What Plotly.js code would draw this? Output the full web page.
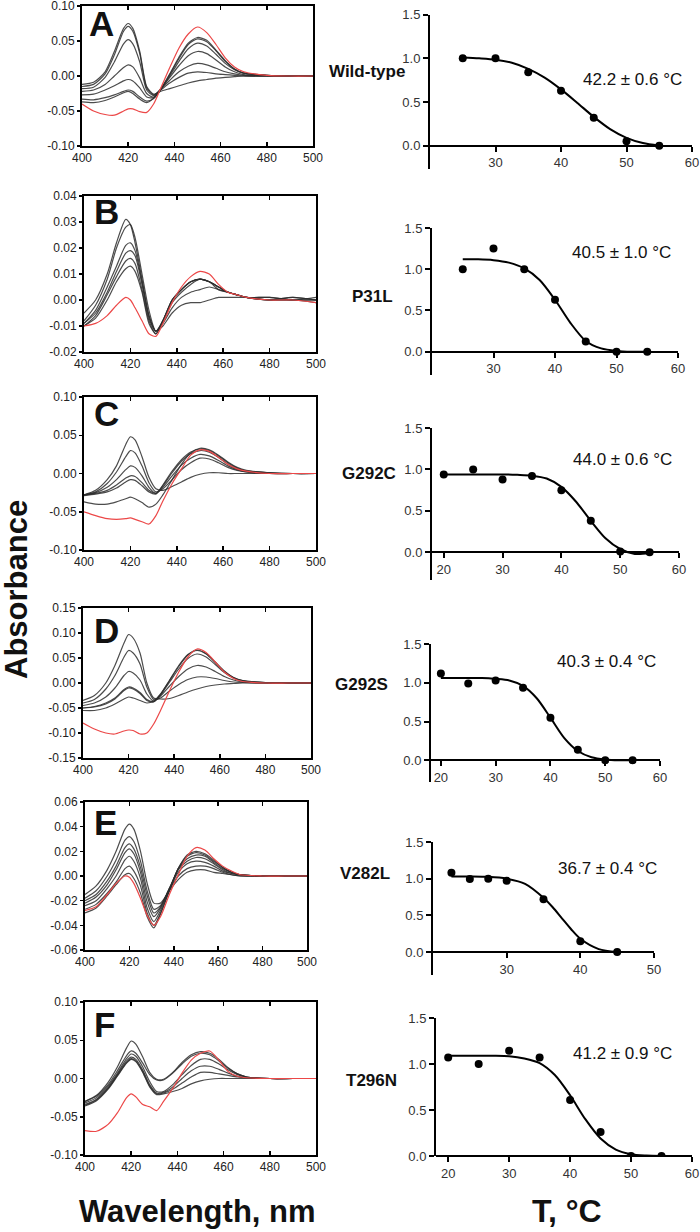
<!DOCTYPE html>
<html><head><meta charset="utf-8">
<script src="https://cdn.plot.ly/plotly-3.0.1.min.js"></script>
<style>html,body{margin:0;padding:0;background:#fff}#chart{width:700px;height:1232px}</style>
</head><body><div id="chart"></div>
<script>
// ---------------- DATA ----------------
const wavelength = [400,405,410,414,418,420,422,425,428,431,434,438,442,446,450,454,458,462,466,470,480,490,500];

// Panel A (Wild-type) spectra
const A_red = [-0.040,-0.050,-0.055,-0.056,-0.050,-0.047,-0.047,-0.051,-0.052,-0.040,-0.018,0.012,0.040,0.060,0.070,0.062,0.045,0.026,0.013,0.006,0.001,0.000,0.000];
const A_1 = [-0.012,-0.009,0.006,0.035,0.068,0.075,0.068,0.035,-0.015,-0.026,-0.022,-0.018,-0.014,-0.010,-0.007,-0.005,-0.003,-0.002,-0.001,0,0,0,0];
const A_2 = [-0.015,-0.012,0.003,0.030,0.064,0.071,0.064,0.032,-0.017,-0.027,-0.020,-0.010,-0.002,0.004,0.006,0.005,0.003,0.002,0.001,0,0,0,0];
const A_3 = [-0.018,-0.016,-0.002,0.020,0.046,0.052,0.046,0.020,-0.020,-0.028,-0.019,-0.006,0.006,0.014,0.018,0.016,0.011,0.006,0.003,0.001,0,0,0];
const A_4 = [-0.022,-0.020,-0.012,0.000,0.012,0.016,0.013,-0.003,-0.025,-0.030,-0.019,-0.002,0.015,0.029,0.035,0.032,0.023,0.013,0.006,0.002,0,0,0];
const A_5 = [-0.027,-0.026,-0.020,-0.014,-0.007,-0.005,-0.007,-0.017,-0.030,-0.031,-0.020,0.000,0.021,0.039,0.047,0.043,0.031,0.018,0.009,0.004,0.001,0,0];
const A_6 = [-0.033,-0.034,-0.031,-0.027,-0.022,-0.020,-0.022,-0.030,-0.036,-0.032,-0.020,0.002,0.025,0.045,0.053,0.049,0.036,0.021,0.010,0.004,0.001,0,0];
const A_7 = [-0.037,-0.038,-0.035,-0.030,-0.024,-0.022,-0.025,-0.033,-0.038,-0.032,-0.019,0.003,0.027,0.047,0.055,0.051,0.037,0.022,0.010,0.004,0.001,0,0];

// Panel B (P31L)
const B_red = [-0.010,-0.009,-0.006,-0.002,0.001,0.000,-0.003,-0.008,-0.013,-0.014,-0.009,-0.001,0.005,0.009,0.011,0.010,0.006,0.003,0.002,0.001,0.000,0.000,-0.001];
const B_1 = [-0.005,0.000,0.010,0.022,0.031,0.029,0.022,0.008,-0.006,-0.012,-0.010,-0.005,-0.002,-0.001,-0.001,0.000,0.001,0.001,0.001,0.001,0.000,0.001,0.000];
const B_2 = [-0.008,-0.002,0.008,0.020,0.028,0.029,0.024,0.010,-0.004,-0.012,-0.009,-0.003,0.001,0.003,0.004,0.005,0.004,0.003,0.002,0.001,0.001,0.000,0.000];
const B_3 = [-0.009,-0.004,0.005,0.013,0.021,0.022,0.019,0.007,-0.006,-0.012,-0.008,-0.001,0.003,0.006,0.008,0.007,0.005,0.003,0.002,0.001,0.001,0.000,0.001];
const B_4 = [-0.009,-0.005,0.003,0.011,0.018,0.019,0.017,0.006,-0.007,-0.012,-0.008,0.000,0.004,0.007,0.008,0.007,0.005,0.003,0.002,0.001,0.000,0.001,0.000];
const B_5 = [-0.010,-0.006,0.002,0.009,0.015,0.016,0.014,0.004,-0.008,-0.013,-0.008,0.000,0.004,0.007,0.008,0.007,0.005,0.003,0.002,0.001,0.000,0.000,0.000];
const B_6 = [-0.010,-0.007,0.000,0.007,0.012,0.013,0.011,0.003,-0.009,-0.013,-0.008,0.000,0.004,0.007,0.008,0.007,0.004,0.003,0.002,0.001,0.000,0.000,-0.001];

// Panel C (G292C)
const C_red = [-0.050,-0.055,-0.059,-0.060,-0.059,-0.058,-0.060,-0.063,-0.066,-0.055,-0.036,-0.013,0.006,0.024,0.031,0.029,0.021,0.012,0.006,0.003,0.000,0.000,0.000];
const C_1 = [-0.028,-0.022,-0.008,0.010,0.038,0.048,0.044,0.022,-0.005,-0.020,-0.022,-0.017,-0.011,-0.005,-0.001,0.001,0.001,0.000,0.000,0.000,0.000,0.000,0.000];
const C_2 = [-0.028,-0.024,-0.013,0.002,0.022,0.030,0.027,0.010,-0.012,-0.024,-0.020,-0.008,0.005,0.014,0.020,0.019,0.014,0.008,0.004,0.002,0,0,0];
const C_3 = [-0.028,-0.025,-0.018,-0.008,0.005,0.010,0.008,-0.003,-0.018,-0.026,-0.018,-0.003,0.011,0.020,0.025,0.023,0.017,0.010,0.005,0.002,0,0,0];
const C_4 = [-0.028,-0.026,-0.022,-0.015,-0.006,-0.003,-0.004,-0.012,-0.022,-0.026,-0.016,0.001,0.016,0.026,0.030,0.028,0.021,0.012,0.006,0.003,0.001,0,0];
const C_5 = [-0.029,-0.027,-0.024,-0.019,-0.011,-0.008,-0.009,-0.016,-0.024,-0.027,-0.015,0.003,0.018,0.028,0.032,0.030,0.023,0.014,0.007,0.003,0.001,0,0];
const C_6 = [-0.037,-0.040,-0.040,-0.037,-0.033,-0.031,-0.033,-0.038,-0.044,-0.040,-0.028,-0.008,0.012,0.027,0.033,0.031,0.024,0.015,0.008,0.004,0.001,0,0];

// Panel D (G292S)
const D_red = [-0.080,-0.092,-0.100,-0.102,-0.096,-0.094,-0.095,-0.102,-0.100,-0.082,-0.055,-0.015,0.022,0.052,0.068,0.061,0.042,0.022,0.009,0.003,0.000,0.000,0.000];
const D_1 = [-0.035,-0.025,0.000,0.035,0.080,0.097,0.090,0.060,0.000,-0.030,-0.032,-0.031,-0.025,-0.018,-0.012,-0.007,-0.004,-0.002,-0.001,0,0,0,0];
const D_2 = [-0.040,-0.033,-0.012,0.015,0.052,0.065,0.060,0.038,-0.008,-0.033,-0.030,-0.016,-0.003,0.007,0.012,0.012,0.009,0.005,0.002,0.001,0,0,0];
const D_3 = [-0.045,-0.040,-0.028,-0.010,0.015,0.023,0.020,0.006,-0.022,-0.036,-0.026,-0.006,0.013,0.028,0.035,0.032,0.023,0.013,0.006,0.002,0,0,0];
const D_4 = [-0.050,-0.047,-0.040,-0.030,-0.013,-0.008,-0.010,-0.019,-0.033,-0.037,-0.024,0.002,0.028,0.049,0.058,0.052,0.037,0.021,0.010,0.004,0,0,0];
const D_5 = [-0.050,-0.048,-0.042,-0.032,-0.015,-0.010,-0.012,-0.021,-0.035,-0.038,-0.023,0.005,0.033,0.056,0.065,0.058,0.041,0.023,0.011,0.005,0.001,0,0];
const D_6 = [-0.055,-0.055,-0.050,-0.042,-0.032,-0.028,-0.030,-0.035,-0.040,-0.036,-0.022,0.006,0.035,0.057,0.066,0.059,0.042,0.024,0.011,0.005,0.001,0,0];

// Panel E (V282L)
const E_red = [-0.028,-0.025,-0.015,-0.006,0.000,-0.001,-0.006,-0.018,-0.032,-0.040,-0.033,-0.015,0.001,0.016,0.023,0.021,0.014,0.008,0.004,0.001,0.000,0.000,0.000];
const E_1 = [-0.015,-0.008,0.005,0.020,0.038,0.042,0.038,0.020,-0.006,-0.022,-0.022,-0.012,-0.003,0.003,0.005,0.005,0.003,0.002,0.001,0,0,0,0];
const E_2 = [-0.018,-0.012,0.000,0.013,0.029,0.032,0.028,0.012,-0.012,-0.027,-0.024,-0.011,0.000,0.006,0.008,0.008,0.006,0.003,0.001,0,0,0,0];
const E_3 = [-0.020,-0.015,-0.004,0.008,0.023,0.026,0.022,0.007,-0.016,-0.030,-0.025,-0.010,0.003,0.010,0.012,0.011,0.008,0.004,0.002,0.001,0,0,0];
const E_4 = [-0.022,-0.017,-0.007,0.005,0.019,0.022,0.018,0.003,-0.021,-0.033,-0.026,-0.010,0.005,0.012,0.015,0.014,0.010,0.005,0.002,0.001,0,0,0];
const E_5 = [-0.024,-0.020,-0.010,0.000,0.013,0.016,0.012,-0.002,-0.026,-0.037,-0.028,-0.011,0.006,0.014,0.017,0.016,0.011,0.006,0.003,0.001,0,0,0];
const E_6 = [-0.027,-0.023,-0.014,-0.005,0.006,0.008,0.004,-0.008,-0.030,-0.040,-0.030,-0.012,0.006,0.016,0.019,0.017,0.012,0.007,0.003,0.001,0,0,0];
const E_7 = [-0.030,-0.026,-0.016,-0.007,0.001,0.002,-0.002,-0.014,-0.033,-0.042,-0.031,-0.012,0.006,0.017,0.020,0.018,0.013,0.007,0.003,0.001,0,0,0];

// Panel F (T296N)
const F_red = [-0.068,-0.069,-0.060,-0.045,-0.025,-0.020,-0.024,-0.034,-0.037,-0.042,-0.030,-0.013,0.007,0.024,0.033,0.036,0.024,0.009,0.003,0.001,0,0,0];
const F_1 = [-0.030,-0.022,-0.005,0.015,0.040,0.049,0.045,0.028,0.008,-0.001,-0.001,0.008,0.021,0.031,0.035,0.033,0.025,0.014,0.006,0.002,0,0,0];
const F_2 = [-0.030,-0.023,-0.008,0.010,0.030,0.036,0.033,0.020,0.005,-0.002,-0.002,0.007,0.019,0.029,0.033,0.031,0.023,0.013,0.006,0.002,0,0,0];
const F_3 = [-0.032,-0.025,-0.010,0.007,0.026,0.032,0.029,0.015,-0.004,-0.017,-0.017,-0.008,0.005,0.017,0.025,0.025,0.019,0.011,0.005,0.002,0,0,0];
const F_4 = [-0.034,-0.027,-0.012,0.005,0.023,0.028,0.025,0.011,-0.008,-0.019,-0.018,-0.011,0.000,0.010,0.016,0.016,0.012,0.007,0.003,0.001,0,0,0];
const F_5 = [-0.035,-0.028,-0.013,0.004,0.021,0.026,0.023,0.009,-0.010,-0.020,-0.019,-0.014,-0.006,0.002,0.008,0.008,0.006,0.004,0.002,0.001,0,0,0];
const F_6 = [-0.036,-0.029,-0.014,0.003,0.020,0.025,0.022,0.008,-0.011,-0.021,-0.020,-0.017,-0.013,-0.007,-0.003,-0.001,0.000,0.000,0.000,0,0,0,0];

// Melting data (fraction vs temperature) and fitted curves
const A_T = [25,30,35,40,45,50,55];
const A_frac = [1.00,1.00,0.84,0.63,0.32,0.05,0.00];
const A_fitT = [25,27.5,30,32.5,35,37.5,40,42.5,45,47.5,50,52.5,55];
const A_fit = [1.01,1.00,0.985,0.95,0.88,0.78,0.645,0.49,0.33,0.19,0.09,0.03,0.00];

const B_T = [25,30,35,40,45,50,55];
const B_frac = [1.00,1.25,1.00,0.63,0.125,0.00,0.00];
const B_fitT = [25,27.5,30,32.5,35,37.5,40,42.5,45,47.5,50,52.5,55];
const B_fit = [1.12,1.12,1.11,1.08,1.01,0.87,0.63,0.35,0.13,0.04,0.01,0.00,0.00];

const C_T = [20,25,30,35,40,45,50,55];
const C_frac = [0.94,1.00,0.88,0.92,0.75,0.38,0.01,0.00];
const C_fitT = [20,22.5,25,27.5,30,32.5,35,37.5,40,42.5,45,47.5,50,52.5,55];
const C_fit = [0.94,0.94,0.94,0.94,0.94,0.935,0.925,0.89,0.79,0.61,0.38,0.17,0.04,-0.02,-0.01];

const D_T = [20,25,30,35,40,45,50,55];
const D_frac = [1.12,0.99,1.03,0.935,0.55,0.135,0.00,0.00];
const D_fitT = [20,22.5,25,27.5,30,32.5,35,37.5,40,42.5,45,47.5,50,52.5,55];
const D_fit = [1.06,1.06,1.06,1.06,1.05,1.03,0.96,0.80,0.55,0.29,0.12,0.04,0.01,0.00,0.00];

const E_T = [22.5,25,27.5,30,35,40,45];
const E_frac = [1.08,0.995,1.00,0.97,0.72,0.145,0.00];
const E_fitT = [22.5,25,27.5,30,32.5,35,36.25,37.5,38.75,40,42.5,45];
const E_fit = [1.03,1.03,1.025,1.00,0.93,0.74,0.61,0.46,0.31,0.18,0.04,0.00];

const F_T = [20,25,30,35,40,45,50,55];
const F_frac = [1.07,1.00,1.145,1.07,0.61,0.26,0.00,0.00];
const F_fitT = [20,22.5,25,27.5,30,32.5,35,37.5,40,42.5,45,47.5,50,52.5,55];
const F_fit = [1.09,1.09,1.09,1.09,1.085,1.06,1.01,0.88,0.66,0.40,0.19,0.07,0.02,0.005,0.00];

const letters = ['A','B','C','D','E','F'];
const mutants = ['Wild-type','P31L','G292C','G292S','V282L','T296N'];
const tmLabels = ['42.2 ± 0.6 °C','40.5 ± 1.0 °C','44.0 ± 0.6 °C','40.3 ± 0.4 °C','36.7 ± 0.4 °C','41.2 ± 0.9 °C'];
const spYTicks = [
  [-0.10,-0.05,0.00,0.05,0.10],
  [-0.02,-0.01,0.00,0.01,0.02,0.03,0.04],
  [-0.10,-0.05,0.00,0.05,0.10],
  [-0.15,-0.10,-0.05,0.00,0.05,0.10,0.15],
  [-0.06,-0.04,-0.02,0.00,0.02,0.04,0.06],
  [-0.10,-0.05,0.00,0.05,0.10]
];
const wlTicks = [400,420,440,460,480,500];
const tTicks = [[30,40,50,60],[30,40,50,60],[20,30,40,50,60],[20,30,40,50,60],[30,40,50],[20,30,40,50,60]];
const fracTicks = [0,0.5,1.0,1.5];

// ---------------- LAYOUT GEOMETRY ----------------
const W = 700, H = 1232;
const px = v => v / W;
const py = v => 1 - v / H;
const specBox = [[82,313,6,146],[84,316,196,352],[84,316,397,550],[83,311,608,758],[85,307,802,950],[85,316,1002,1155]];
const meltBox = [[430,692,14.7,169],[432,678,228,375],[432,679,428,580],[431,660,644,782],[433,654,842,975],[436,692,1018,1156]];
const meltZero = [145.7,351.7,552.3,760.3,952,1156];
const meltX = [[20,60],[20,60],[18,60],[18.2,60],[20,50],[18,60]];

const spectra = [
  [A_1,A_2,A_3,A_4,A_5,A_6,A_7,A_red],
  [B_1,B_2,B_3,B_4,B_5,B_6,B_red],
  [C_1,C_2,C_3,C_4,C_5,C_6,C_red],
  [D_1,D_2,D_3,D_4,D_5,D_6,D_red],
  [E_1,E_2,E_3,E_4,E_5,E_6,E_7,E_red],
  [F_1,F_2,F_3,F_4,F_5,F_6,F_red]
];
const melt = [[A_T,A_frac,A_fitT,A_fit],[B_T,B_frac,B_fitT,B_fit],[C_T,C_frac,C_fitT,C_fit],[D_T,D_frac,D_fitT,D_fit],[E_T,E_frac,E_fitT,E_fit],[F_T,F_frac,F_fitT,F_fit]];

const FONT = 'Arial, "Liberation Sans", Helvetica, sans-serif';
const traces = [];
const layout = {
  width: W, height: H, margin: {l:0,r:0,t:0,b:0},
  paper_bgcolor: '#fff', plot_bgcolor: 'rgba(0,0,0,0)',
  showlegend: false, font: {family: FONT, color: '#222'},
  annotations: []
};
const fmt = (v, d) => (v < 0 ? '-' : '') + Math.abs(v).toFixed(d);

for (let i = 0; i < 6; i++) {
  const n = i + 1;
  const m = i + 7;
  const xs = n === 1 ? 'x' : 'x' + n, ys = n === 1 ? 'y' : 'y' + n;
  const xm = 'x' + m, ym = 'y' + m;
  const series = spectra[i];
  series.forEach((arr, k) => {
    const red = k === series.length - 1;
    traces.push({x: wavelength, y: arr, xaxis: xs, yaxis: ys, type: 'scatter', mode: 'lines',
      line: {color: red ? 'rgb(236,72,72)' : 'rgba(45,45,45,0.85)', width: 1.2, shape: 'spline', smoothing: 0.7},
      hoverinfo: 'skip'});
  });
  const b = specBox[i];
  const yt = spYTicks[i];
  layout[n === 1 ? 'xaxis' : 'xaxis' + n] = {
    domain: [px(b[0]), px(b[1])], anchor: ys, range: [400, 500],
    tickvals: wlTicks, ticks: 'inside', ticklen: 4, tickwidth: 1.5, tickcolor: '#000',
    mirror: 'allticks', showline: true, linecolor: '#000', linewidth: 2,
    showgrid: false, zeroline: false, tickfont: {size: 12, color: '#222'}, ticklabelstandoff: 0,
    ticklabeloverflow: 'allow'
  };
  layout[n === 1 ? 'yaxis' : 'yaxis' + n] = {
    domain: [py(b[3]), py(b[2])], anchor: xs, range: [yt[0], yt[yt.length - 1]],
    tickvals: yt, ticktext: yt.map(v => fmt(v, 2)), ticks: 'outside', ticklen: 3, tickwidth: 1.5, tickcolor: '#000',
    mirror: true, showline: true, linecolor: '#000', linewidth: 2,
    showgrid: false, zeroline: false, tickfont: {size: 12, color: '#222'}, ticklabelstandoff: 0,
    ticklabeloverflow: 'allow'
  };

  const md = melt[i];
  traces.push({x: md[2], y: md[3], xaxis: xm, yaxis: ym, type: 'scatter', mode: 'lines',
    line: {color: '#000', width: 2, shape: 'spline', smoothing: 0.8}, hoverinfo: 'skip'});
  traces.push({x: md[0], y: md[1], xaxis: xm, yaxis: ym, type: 'scatter', mode: 'markers',
    marker: {color: '#000', size: 8}, hoverinfo: 'skip'});
  const mb = meltBox[i];
  const per = (meltZero[i] - mb[2]) / 1.5;
  const ymin = -(mb[3] - meltZero[i]) / per;
  layout['xaxis' + m] = {
    domain: [px(mb[0]), px(mb[1])], anchor: 'free', position: py(meltZero[i]),
    range: meltX[i], tickvals: tTicks[i], ticks: 'outside', ticklen: 5, tickwidth: 2, tickcolor: '#000',
    showline: true, linecolor: '#000', linewidth: 2, showgrid: false, zeroline: false,
    tickfont: {size: 13, color: '#333'}, ticklabeloverflow: 'allow'
  };
  layout['yaxis' + m] = {
    domain: [py(mb[3]), py(mb[2])], anchor: xm, range: [ymin, 1.5],
    tickvals: fracTicks, ticktext: fracTicks.map(v => v.toFixed(1)), ticks: 'outside', ticklen: 5, tickwidth: 2, tickcolor: '#000',
    showline: true, linecolor: '#000', linewidth: 2, showgrid: false, zeroline: false,
    tickfont: {size: 13, color: '#333'}, ticklabeloverflow: 'allow'
  };
}

const letterPos = [[101,23],[106,212],[106,413],[106,630],[105,822],[104,1024]];
const mutPos = [[367,72],[373,296],[369,474],[361,684],[365,873],[371,1080]];
const tmPos = [[632,79],[621,253],[622,459],[606,661],[607,868],[622,1053]];
for (let i = 0; i < 6; i++) {
  layout.annotations.push({text: '<b>' + letters[i] + '</b>', xref: 'paper', yref: 'paper',
    x: px(letterPos[i][0]), y: py(letterPos[i][1]), xanchor: 'center', yanchor: 'middle', showarrow: false,
    font: {family: FONT, size: 35, color: '#111'}});
  layout.annotations.push({text: '<b>' + mutants[i] + '</b>', xref: 'paper', yref: 'paper',
    x: px(mutPos[i][0]), y: py(mutPos[i][1]), xanchor: 'center', yanchor: 'middle', showarrow: false,
    font: {family: FONT, size: 17, color: '#111'}});
  layout.annotations.push({text: tmLabels[i], xref: 'paper', yref: 'paper',
    x: px(tmPos[i][0]), y: py(tmPos[i][1]), xanchor: 'center', yanchor: 'middle', showarrow: false,
    font: {family: FONT, size: 17, color: '#111'}});
}
layout.annotations.push({text: '<b>Absorbance</b>', xref: 'paper', yref: 'paper', x: px(16), y: py(590),
  xanchor: 'center', yanchor: 'middle', textangle: -90, showarrow: false, font: {family: FONT, size: 31, color: '#111'}});
layout.annotations.push({text: '<b>Wavelength, nm</b>', xref: 'paper', yref: 'paper', x: px(197), y: py(1211),
  xanchor: 'center', yanchor: 'middle', showarrow: false, font: {family: FONT, size: 31, color: '#111'}});
layout.annotations.push({text: '<b>T, °C</b>', xref: 'paper', yref: 'paper', x: px(567), y: py(1211),
  xanchor: 'center', yanchor: 'middle', showarrow: false, font: {family: FONT, size: 32, color: '#111'}});

Plotly.newPlot('chart', traces, layout, {staticPlot: true, displayModeBar: false});
</script>
</body></html>
